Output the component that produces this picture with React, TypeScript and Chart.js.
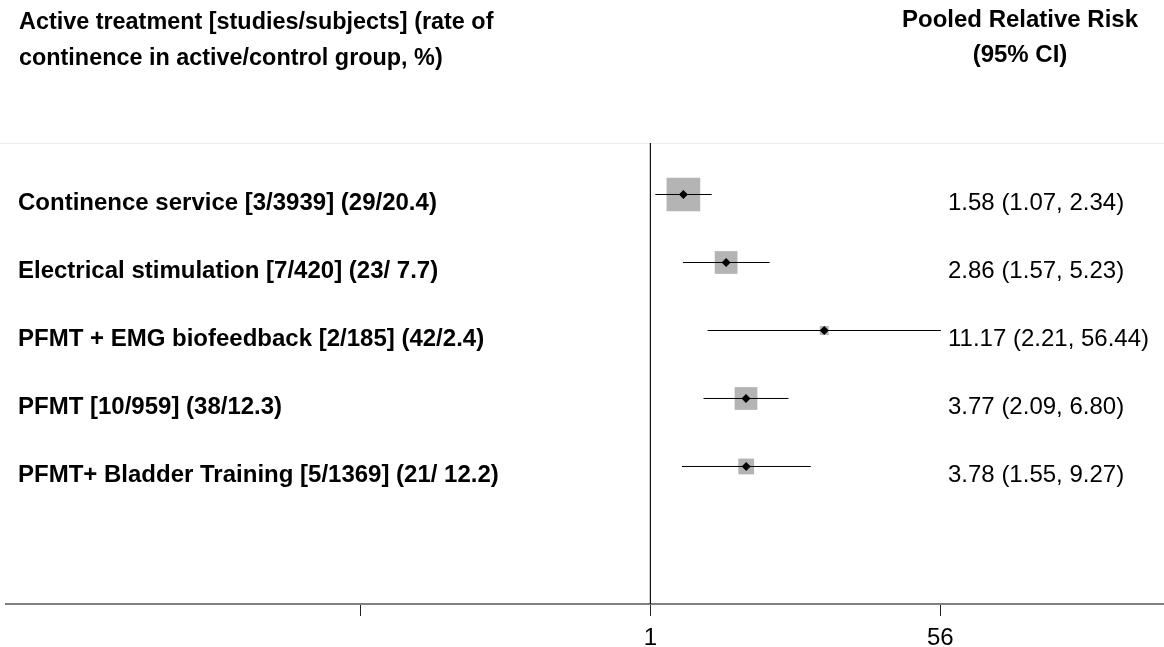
import { useEffect, useRef } from "react";
import { Chart, registerables } from "chart.js";

Chart.register(...registerables);

// Pooled relative risk of continence by active treatment
const TREATMENTS = [
  "Continence service [3/3939] (29/20.4)",
  "Electrical stimulation [7/420] (23/ 7.7)",
  "PFMT + EMG biofeedback [2/185] (42/2.4)",
  "PFMT [10/959] (38/12.3)",
  "PFMT+ Bladder Training [5/1369] (21/ 12.2)",
];
const RISK_RATIO = [1.58, 2.86, 11.17, 3.77, 3.78];
const CI_LOWER = [1.07, 1.57, 2.21, 2.09, 1.55];
const CI_UPPER = [2.34, 5.23, 56.44, 6.8, 9.27];
// relative weight of each pooled estimate (%), drives the box area
const WEIGHTS = [45.3, 20.7, 3.2, 20.7, 10.0];

const TICK_VALUES = [1 / 56, 1, 56];
const TICK_LABELS = ["", "1", "56"];

const HEADER_LEFT = [
  "Active treatment [studies/subjects] (rate of",
  "continence in active/control group, %)",
];
const HEADER_RIGHT = ["Pooled Relative Risk", "(95% CI)"];

const X_MIN = 1.3e-4;
const X_MAX = 1250;
const Y_MIN = 0.2426;
const Y_MAX = 7.0226;

const FONT = "'Liberation Sans', Arial, sans-serif";
const BOX_SCALE = 50;

const fmt = (v: number) => v.toFixed(2);

const forestText = {
  id: "forestText",
  beforeDatasetsDraw(chart: any) {
    const { ctx, chartArea } = chart;
    ctx.save();
    ctx.strokeStyle = "#ececec";
    ctx.lineWidth = 1;
    ctx.beginPath();
    ctx.moveTo(0, chartArea.top + 0.5);
    ctx.lineTo(chart.width, chartArea.top + 0.5);
    ctx.stroke();
    ctx.restore();
  },
  afterDraw(chart: any) {
    const { ctx } = chart;
    const y = chart.scales.y;
    ctx.save();
    ctx.fillStyle = "#000";
    ctx.textBaseline = "middle";

    ctx.textAlign = "left";
    ctx.font = `bold 23.4px ${FONT}`;
    HEADER_LEFT.forEach((t, i) => ctx.fillText(t, 19, 23 + i * 36));

    ctx.textAlign = "center";
    ctx.font = `bold 24px ${FONT}`;
    HEADER_RIGHT.forEach((t, i) => ctx.fillText(t, 1020, 20 + i * 35));

    ctx.textAlign = "left";
    TREATMENTS.forEach((t, i) => {
      const py = Math.round(y.getPixelForValue(i + 1)) + 9;
      ctx.font = `bold 24px ${FONT}`;
      ctx.fillText(t, 18, py);
      ctx.font = `24px ${FONT}`;
      ctx.fillText(
        `${fmt(RISK_RATIO[i])} (${fmt(CI_LOWER[i])}, ${fmt(CI_UPPER[i])})`,
        948,
        py
      );
    });
    ctx.restore();
  },
};

export default function App() {
  const ref = useRef<HTMLCanvasElement>(null);

  useEffect(() => {
    const canvas = ref.current;
    if (!canvas) return;
    const rows = RISK_RATIO.map((_, i) => i + 1);

    const ciLines = rows.map((r, i) => ({
      type: "line" as const,
      data: [
        { x: CI_LOWER[i], y: r },
        { x: CI_UPPER[i], y: r },
      ],
      borderColor: "#000",
      borderWidth: 1,
      pointRadius: 0,
    }));

    const chart = new Chart(canvas, {
      type: "scatter",
      data: {
        datasets: [
          {
            data: rows.map((r, i) => ({ x: RISK_RATIO[i], y: r })),
            pointStyle: "rectRot",
            pointRadius: 4.5,
            pointHoverRadius: 4.5,
            backgroundColor: "#000",
            borderWidth: 0,
          },
          ...ciLines,
          {
            data: rows.map((r, i) => ({ x: RISK_RATIO[i], y: r })),
            pointStyle: "rect",
            pointRadius: WEIGHTS.map(
              (w) => (BOX_SCALE * Math.sqrt(w / 100)) / Math.SQRT2
            ),
            backgroundColor: "#b4b4b4",
            borderWidth: 0,
          },
          {
            type: "line" as const,
            data: [
              { x: 1, y: Y_MIN },
              { x: 1, y: Y_MAX },
            ],
            borderColor: "#111",
            borderWidth: 1,
            pointRadius: 0,
          },
        ] as any,
      },
      options: {
        responsive: false,
        animation: false,
        events: [],
        layout: {
          autoPadding: false,
          padding: { left: 6, right: 0, top: 143, bottom: 0 },
        },
        plugins: {
          legend: { display: false },
          tooltip: { enabled: false },
        },
        scales: {
          x: {
            type: "logarithmic",
            position: "bottom",
            min: X_MIN,
            max: X_MAX,
            afterBuildTicks: (s: any) => {
              s.ticks = TICK_VALUES.map((v) => ({ value: v }));
            },
            afterFit: (s: any) => {
              s.height = 43;
              s.paddingLeft = 0;
              s.paddingRight = 0;
            },
            ticks: {
              autoSkip: false,
              maxRotation: 0,
              padding: 8,
              color: "#000",
              font: { family: FONT, size: 24 },
              callback: (_v: any, i: number) => TICK_LABELS[i],
            },
            grid: {
              drawOnChartArea: false,
              drawTicks: true,
              tickLength: 12,
              color: "#222",
              lineWidth: 1,
            },
            border: { display: true, color: "#808080", width: 2 },
          },
          y: {
            type: "linear",
            display: false,
            min: Y_MIN,
            max: Y_MAX,
            reverse: true,
          },
        },
      } as any,
      plugins: [forestText],
    });

    return () => chart.destroy();
  }, []);

  return (
    <div
      style={{
        position: "fixed",
        left: 0,
        top: 0,
        width: 1164,
        height: 647,
        background: "#fff",
      }}
    >
      <canvas ref={ref} width={1164} height={647} />
    </div>
  );
}
